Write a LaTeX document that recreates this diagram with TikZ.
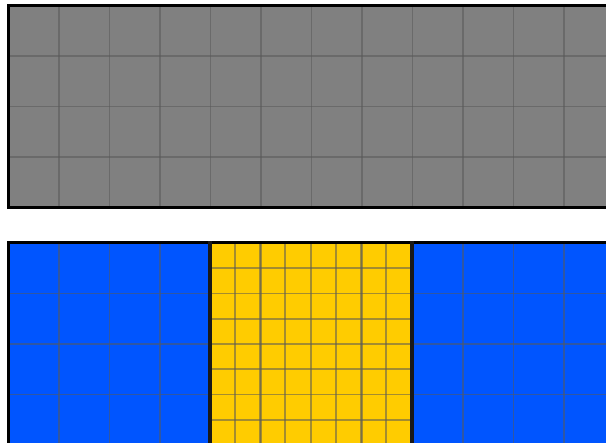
\documentclass[tikz,border=0pt]{standalone}
\definecolor{panelgray}{RGB}{128,128,128}
\definecolor{panelblue}{RGB}{0,85,255}
\definecolor{panelyellow}{RGB}{255,204,0}
\tikzset{
  gridline/.style={draw=black!65, opacity=0.55, line width=1.9pt},
  frame/.style={draw=black, line width=3pt},
  thickframe/.style={draw=black!90, line width=4pt},
}
\begin{document}
\begin{tikzpicture}[x=1pt,y=-1pt]
\useasboundingbox (0,0) rectangle (606,443);
\clip (0,0) rectangle (606,443);
% top panel
\fill[panelgray] (8.5,5.5) rectangle (620,207.5);
\foreach \i in {1,...,12} \draw[gridline] ({8.5+50.5*\i},5.5) -- ({8.5+50.5*\i},207.5);
\foreach \j in {1,2,3} \draw[gridline] (8.5,{5.5+50.5*\j}) -- (620,{5.5+50.5*\j});
\draw[frame] (620,5.5) -- (8.5,5.5) -- (8.5,207.5) -- (620,207.5);
% bottom panel
\fill[panelblue] (8.5,243) rectangle (209.5,460);
\fill[panelyellow] (209.5,243) rectangle (411.5,460);
\fill[panelblue] (411.5,243) rectangle (620,460);
\foreach \i in {1,2,3} \draw[gridline] ({8.5+50.5*\i},243) -- ({8.5+50.5*\i},460);
\foreach \i in {5,...,12} \draw[gridline] ({8.5+50.5*\i},243) -- ({8.5+50.5*\i},460);
\foreach \j in {1,2,3} {
  \draw[gridline] (8.5,{243+50.5*\j}) -- (209.5,{243+50.5*\j});
  \draw[gridline] (411.5,{243+50.5*\j}) -- (620,{243+50.5*\j});
}
\foreach \i in {1,...,7} \draw[gridline] ({209.5+25.25*\i},243) -- ({209.5+25.25*\i},460);
\foreach \j in {1,...,7} \draw[gridline] (209.5,{243+25.25*\j}) -- (411.5,{243+25.25*\j});
\draw[frame] (8.5,460) -- (8.5,243) -- (620,243);
\draw[thickframe] (209.5,241.5) -- (209.5,460);
\draw[thickframe] (411.5,241.5) -- (411.5,460);
\end{tikzpicture}
\end{document}
